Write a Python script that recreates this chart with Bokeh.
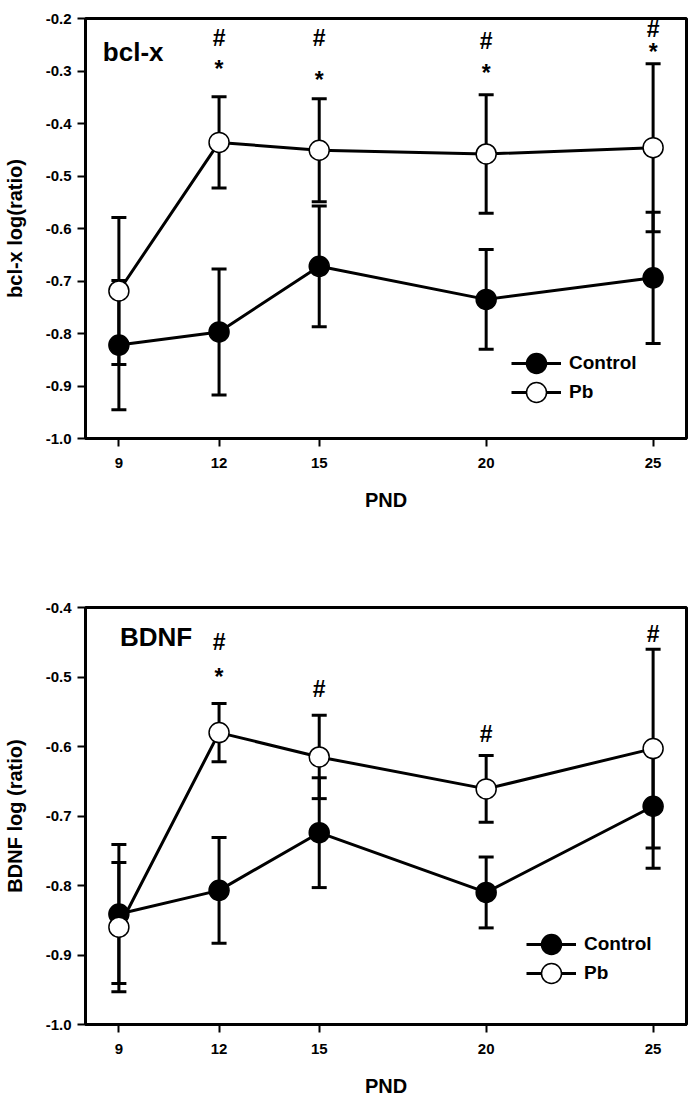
from bokeh.plotting import figure
from bokeh.models import (Range1d, FixedTicker, NumeralTickFormatter, Whisker, TeeHead,
                          ColumnDataSource, Legend, LegendItem, Label)
from bokeh.layouts import column
from bokeh.embed import file_html
from bokeh.resources import INLINE
from bokeh.core.properties import value

# ---------------- data ----------------
pnd = [9, 12, 15, 20, 25]
x_ticks = [9, 12, 15, 20, 25]

bcl_control = [-0.822, -0.797, -0.672, -0.735, -0.694]
bcl_control_err = [0.123, 0.120, 0.115, 0.095, 0.125]
bcl_pb = [-0.719, -0.436, -0.451, -0.458, -0.446]
bcl_pb_err = [0.140, 0.087, 0.098, 0.113, 0.160]

bdnf_control = [-0.841, -0.807, -0.724, -0.810, -0.686]
bdnf_control_err = [0.100, 0.076, 0.079, 0.051, 0.089]
bdnf_pb = [-0.860, -0.580, -0.615, -0.661, -0.603]
bdnf_pb_err = [0.093, 0.042, 0.060, 0.048, 0.143]

bcl_yticks = [-1.0, -0.9, -0.8, -0.7, -0.6, -0.5, -0.4, -0.3, -0.2]
bdnf_yticks = [-1.0, -0.9, -0.8, -0.7, -0.6, -0.5, -0.4]

# significance marks (text, x, y)
bcl_sig_text = ["#", "*", "#", "*", "#", "*", "#", "*"]
bcl_sig_x = [12, 12, 15, 15, 20, 20, 25, 25]
bcl_sig_y = [-0.238, -0.297, -0.238, -0.317, -0.243, -0.304, -0.220, -0.264]

bdnf_sig_text = ["#", "*", "#", "#", "#"]
bdnf_sig_x = [12, 12, 15, 20, 25]
bdnf_sig_y = [-0.450, -0.500, -0.517, -0.582, -0.438]

FONT = "Liberation Sans"


def make_panel(ctrl, ctrl_err, pb, pb_err, yr, yticks, ylabel, panel_label, label_xy,
               sig_text, sig_x, sig_y, height, b_top, b_bottom, legend_ctrl_loc, legend_pb_loc):
    p = figure(width=688, height=height, output_backend="svg", toolbar_location=None,
               x_range=Range1d(8, 26), y_range=Range1d(*yr),
               min_border_left=85, min_border_right=2,
               min_border_top=b_top, min_border_bottom=b_bottom)
    p.xgrid.visible = False
    p.ygrid.visible = False
    p.outline_line_color = "black"
    p.outline_line_width = 3
    p.outline_line_alpha = 1.0
    p.background_fill_color = "white"
    p.border_fill_color = "white"

    for ax in (p.xaxis[0], p.yaxis[0]):
        ax.axis_line_width = 3
        ax.axis_line_color = "black"
        ax.major_tick_line_width = 2
        ax.major_tick_line_color = "black"
        ax.major_tick_in = 0
        ax.major_tick_out = 8
        ax.minor_tick_line_color = None
        ax.major_label_text_font = FONT
        ax.major_label_text_font_style = "bold"
        ax.major_label_text_font_size = "15px"
        ax.major_label_text_color = "black"
        ax.axis_label_text_font = FONT
        ax.axis_label_text_font_style = "bold"
        ax.axis_label_text_font_size = "20px"
        ax.axis_label_text_color = "black"

    p.xaxis.ticker = FixedTicker(ticks=x_ticks)
    p.yaxis.ticker = FixedTicker(ticks=yticks)
    p.yaxis.formatter = NumeralTickFormatter(format="0.0")
    p.xaxis.axis_label = "PND"
    p.yaxis.axis_label = ylabel
    p.xaxis.major_label_standoff = 11
    p.yaxis.major_label_standoff = 6
    p.xaxis.axis_label_standoff = 18
    p.yaxis.axis_label_standoff = 17

    for vals, errs in ((ctrl, ctrl_err), (pb, pb_err)):
        src = ColumnDataSource(dict(x=pnd,
                                    upper=[v + e for v, e in zip(vals, errs)],
                                    lower=[v - e for v, e in zip(vals, errs)]))
        w = Whisker(base="x", upper="upper", lower="lower", source=src,
                    line_width=3, line_color="black", level="underlay",
                    upper_head=TeeHead(size=15, line_width=3, line_color="black"),
                    lower_head=TeeHead(size=15, line_width=3, line_color="black"))
        p.add_layout(w)

    l_ctrl = p.line(pnd, ctrl, line_color="black", line_width=3)
    l_pb = p.line(pnd, pb, line_color="black", line_width=3)
    s_ctrl = p.scatter(pnd, ctrl, size=20, fill_color="black", line_color="black", line_width=1.5)
    s_pb = p.scatter(pnd, pb, size=20, fill_color="white", line_color="black", line_width=1.5)

    for lab, rends, loc in (("Control", [l_ctrl, s_ctrl], legend_ctrl_loc),
                            ("Pb", [l_pb, s_pb], legend_pb_loc)):
        legend = Legend(items=[LegendItem(label=lab, renderers=rends)],
                        location=loc, glyph_width=50, glyph_height=50,
                        label_standoff=8, padding=10,
                        border_line_color=None, background_fill_alpha=0,
                        label_text_font=FONT, label_text_font_style="bold",
                        label_text_font_size="19px", label_text_color="black",
                        label_text_baseline="middle")
        p.add_layout(legend, "center")

    p.add_layout(Label(x=label_xy[0], y=label_xy[1], text=panel_label,
                       text_font=FONT, text_font_style="bold", text_font_size="26px",
                       text_align="left", text_baseline="middle", text_color="black"))

    p.text(x=sig_x, y=sig_y, text=sig_text, text_font=value(FONT), text_font_style="bold",
           text_font_size="23px", text_align="center", text_baseline="middle",
           text_color="black")
    return p


p1 = make_panel(bcl_control, bcl_control_err, bcl_pb, bcl_pb_err, (-1.0, -0.2), bcl_yticks,
                "bcl-x log(ratio)", "bcl-x", (8.52, -0.263),
                bcl_sig_text, bcl_sig_x, bcl_sig_y, 540, 18, 102, (426, 50), (426, 21))
p2 = make_panel(bdnf_control, bdnf_control_err, bdnf_pb, bdnf_pb_err, (-1.0, -0.4), bdnf_yticks,
                "BDNF log (ratio)", "BDNF", (9.03, -0.443),
                bdnf_sig_text, bdnf_sig_x, bdnf_sig_y, 559, 67, 72, (441, 55), (441, 26))

layout = column(p1, p2, spacing=0)
open("out.html", "w").write(file_html(layout, INLINE))
